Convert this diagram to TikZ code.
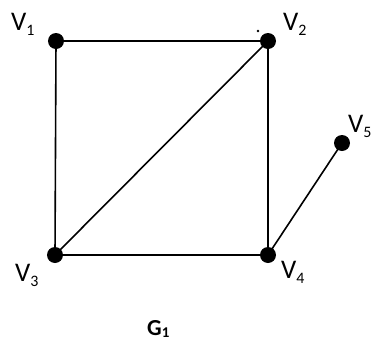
\documentclass[tikz,border=0pt]{standalone}
\usepackage{fontspec}
\setmainfont{Carlito}
\newcommand{\vsub}[2]{#1\raisebox{-0.4ex}{\fontsize{16}{19}\selectfont #2}}

\begin{document}
\begin{tikzpicture}[x=1bp,y=-1bp,
    vertex/.style={circle,fill=black,inner sep=0pt,minimum size=16bp},
    vlabel/.style={anchor=base west,inner sep=0pt,font=\fontsize{27}{32}\selectfont},
    edge/.style={line width=1.6bp}]
    \useasboundingbox (0,0) rectangle (371,343);

    % vertices
    \node[vertex] (v1) at (56,41) {};
    \node[vertex] (v2) at (268,41) {};
    \node[vertex] (v3) at (55,255) {};
    \node[vertex] (v4) at (268,255) {};
    \node[vertex] (v5) at (342,143) {};

    % edges
    \draw[edge] (v1.center) -- (v2.center);
    \draw[edge] (v1.center) -- (v3.center);
    \draw[edge] (v2.center) -- (v4.center);
    \draw[edge] (v3.center) -- (v4.center);
    \draw[edge] (v3.center) -- (v2.center);
    \draw[edge] (v4.center) -- (v5.center);

    % stray mark near V2
    \fill (258,31) circle (1.3bp);

    % labels
    \node[vlabel] (l1) at (11,30) {\vsub{V}{1}};
    \node[vlabel] (l2) at (283,30) {\vsub{V}{2}};
    \node[vlabel] (l3) at (15,281) {\vsub{V}{3}};
    \node[vlabel] (l4) at (281,278) {\vsub{V}{4}};
    \node[vlabel] (l5) at (348,132) {\vsub{V}{5}};
    \node[anchor=base west,inner sep=0pt,font=\fontsize{23}{27}\selectfont\bfseries] (g1) at (147,335) {G\raisebox{-0.25ex}{\fontsize{15}{18}\selectfont 1}};
\end{tikzpicture}
\end{document}
